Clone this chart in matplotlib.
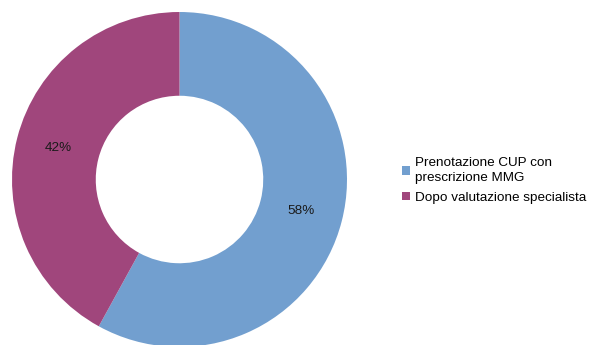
import matplotlib
matplotlib.use("Agg")
import matplotlib.pyplot as plt
from matplotlib.patches import Patch

plt.rcParams['font.family'] = ['Liberation Sans', 'DejaVu Sans']

categories = ["Prenotazione CUP con\nprescrizione MMG", "Dopo valutazione specialista"]
values = [58, 42]
colors = ["#729FCF", "#A0467C"]

W, H = 591, 345
fig = plt.figure(figsize=(W / 100, H / 100), dpi=100)
ax = fig.add_axes([12 / W, -2 / H, 335 / W, 335 / H])

wedges, texts, autotexts = ax.pie(
    values, colors=colors, startangle=90, counterclock=False, radius=1,
    wedgeprops=dict(width=0.5, edgecolor='none'),
    autopct=lambda p: f"{p:.0f}%", pctdistance=0.75,
    textprops=dict(fontsize=9.7, color='#1a1a1a'))
ax.set_xlim(-1, 1)
ax.set_ylim(-1, 1)
ax.set_aspect('equal')
ax.axis('off')

handles = [Patch(facecolor=c, edgecolor='none') for c in colors]
leg = fig.legend(handles, categories, loc='upper left',
                 bbox_to_anchor=(395 / W, 1 - 150 / H), frameon=False,
                 fontsize=9.7, handlelength=0.6, handleheight=0.6,
                 handletextpad=0.35, labelspacing=0.55, borderpad=0)
for t in leg.get_texts():
    t.set_linespacing(1.4)

fig.savefig("out.png", dpi=100)
